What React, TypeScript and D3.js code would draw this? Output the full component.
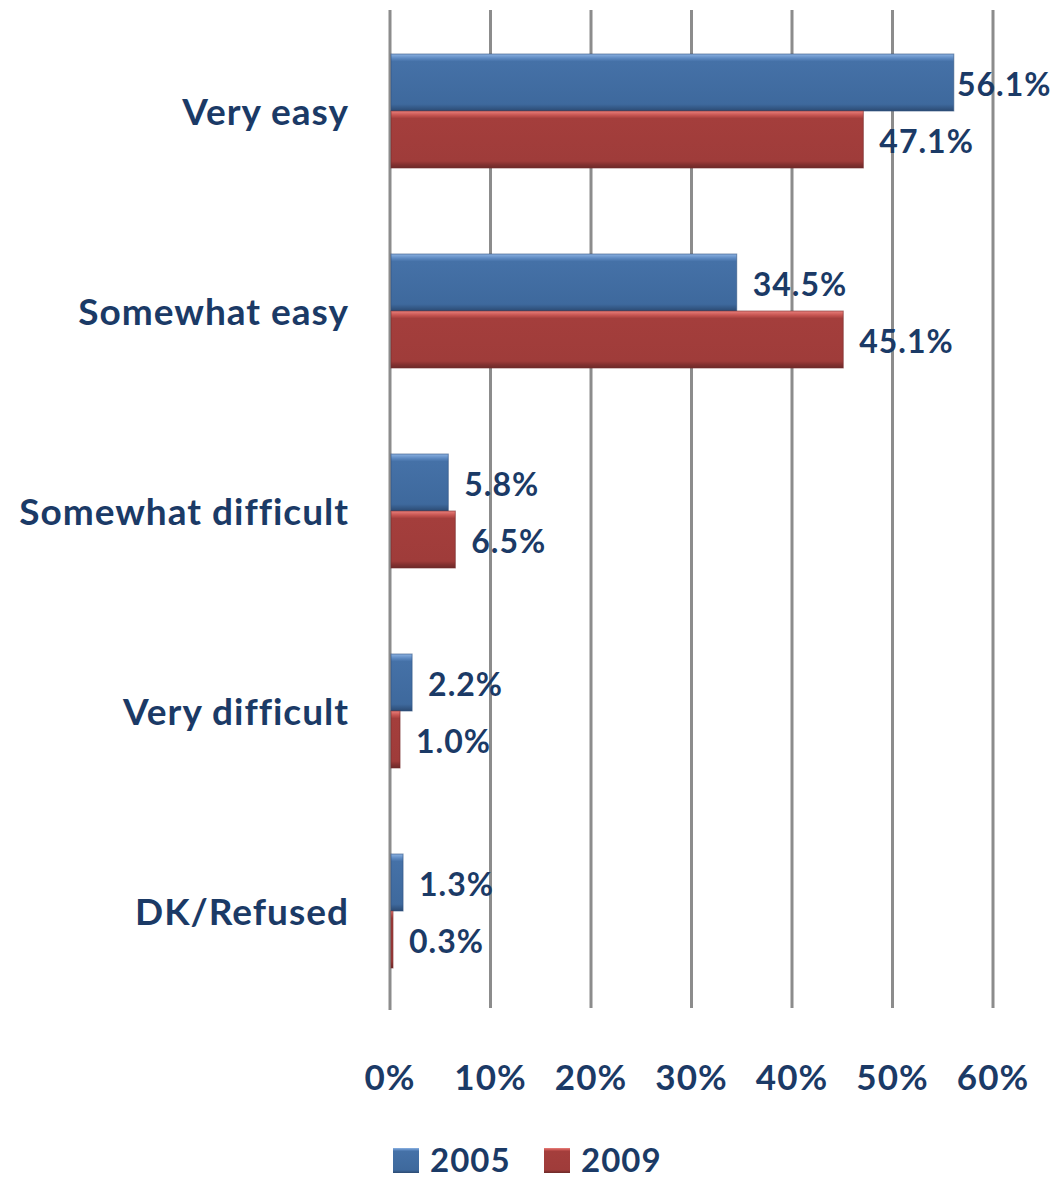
import React from "react";
import * as d3 from "d3";

const categories = ["Very easy", "Somewhat easy", "Somewhat difficult", "Very difficult", "DK/Refused"];
const values2005 = [56.1, 34.5, 5.8, 2.2, 1.3];
const values2009 = [47.1, 45.1, 6.5, 1.0, 0.3];
const seriesNames = ["2005", "2009"];
const ticks = [0, 10, 20, 30, 40, 50, 60];

const W = 1064;
const H = 1178;
const TEXT = "#1B3A66";
const FONT = "Lato, 'DejaVu Sans', sans-serif";

export default function App() {
  const x = d3.scaleLinear().domain([0, 60]).range([390, 993]);
  const y = d3.scaleBand<string>().domain(categories).range([11, 1011]).paddingInner(0.43).paddingOuter(0.215);
  const bw = y.bandwidth() / 2;
  const series = [
    { name: seriesNames[0], values: values2005, grad: "gBlue" },
    { name: seriesNames[1], values: values2009, grad: "gRed" },
  ];
  return (
    <svg width={W} height={H} style={{ position: "absolute", left: 0, top: 0, background: "#fff" }} fontFamily={FONT}>
      <defs>
        <linearGradient id="gBlue" x1="0" y1="0" x2="0" y2="1">
          <stop offset="0" stopColor="#8DB3E2" />
          <stop offset="0.07" stopColor="#5F8BC3" />
          <stop offset="0.13" stopColor="#4571A7" />
          <stop offset="0.88" stopColor="#3E699D" />
          <stop offset="0.94" stopColor="#355A88" />
          <stop offset="1" stopColor="#2B4A72" />
        </linearGradient>
        <linearGradient id="gRed" x1="0" y1="0" x2="0" y2="1">
          <stop offset="0" stopColor="#E9807D" />
          <stop offset="0.07" stopColor="#C85652" />
          <stop offset="0.13" stopColor="#A43E3C" />
          <stop offset="0.88" stopColor="#9F3C3A" />
          <stop offset="0.94" stopColor="#833130" />
          <stop offset="1" stopColor="#6D2A29" />
        </linearGradient>
      </defs>
      {ticks.map((t) => (
        <line key={t} x1={x(t)} x2={x(t)} y1={10} y2={t === 0 ? 1010 : 1008} stroke="#8C8C8C" strokeWidth={3} />
      ))}
      {categories.map((c, i) => (
        <g key={c}>
          {series.map((s, j) => {
            const v = s.values[i];
            const y0 = (y(c) as number) + j * bw;
            const wRaw = x(v) - x(0);
            let lx = x(v) + 16;
            if (lx + 95 > 1052) lx = 1052 - 95;
            return (
              <g key={s.name}>
                <rect x={x(0) + 1} y={y0} width={Math.max(wRaw - 1, 1.5)} height={bw} fill={`url(#${s.grad})`} />
                <rect x={x(0) + 1} y={y0} width={Math.max(wRaw - 1, 1.5)} height={bw} fill="none" stroke={j === 0 ? "#2F5180" : "#742C2B"} strokeWidth={1} strokeOpacity={0.6} />
                <text x={lx} y={y0 + bw / 2 + 1} dominantBaseline="central" fontSize={32} fontWeight={700} letterSpacing={1} fill={TEXT}>
                  {v.toFixed(1)}%
                </text>
              </g>
            );
          })}
          <text x={349} y={(y(c) as number) + bw - 1} textAnchor="end" dominantBaseline="central" fontSize={37} fontWeight={700} letterSpacing={1} fill={TEXT}>
            {c}
          </text>
        </g>
      ))}
      {ticks.map((t) => (
        <text key={t} x={x(t)} y={1076} textAnchor="middle" dominantBaseline="central" fontSize={35} fontWeight={700} letterSpacing={1} fill={TEXT}>
          {t}%
        </text>
      ))}
      {series.map((s, j) => {
        const lx = j === 0 ? 393 : 544;
        return (
          <g key={s.name}>
            <rect x={lx} y={1148} width={26} height={25} fill={`url(#${s.grad})`} />
            <text x={lx + 37} y={1159} dominantBaseline="central" fontSize={33} fontWeight={700} letterSpacing={1} fill={TEXT}>
              {s.name}
            </text>
          </g>
        );
      })}
    </svg>
  );
}
